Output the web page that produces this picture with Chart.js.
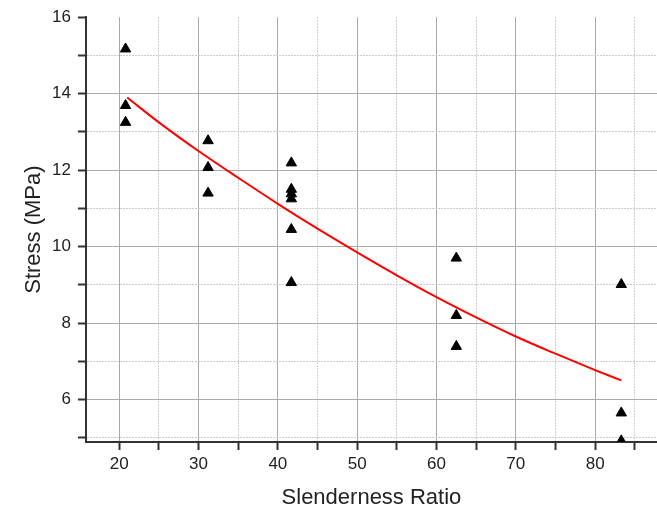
<!DOCTYPE html>
<html>
<head>
<meta charset="utf-8">
<script src="https://cdn.jsdelivr.net/npm/chart.js@4.4.1/dist/chart.umd.min.js"></script>
<style>
  html, body { margin: 0; padding: 0; background: #fff; overflow: hidden; }
</style>
</head>
<body>
<canvas id="stressChart" width="657" height="510"></canvas>
<script>
// measured points (slenderness ratio, stress)
const ratioX = [20.8, 20.8, 20.8, 31.2, 31.2, 31.2, 41.7, 41.7, 41.7, 41.7, 41.7, 41.7, 62.5, 62.5, 62.5, 83.3, 83.3, 83.3];
const stressY = [15.17, 13.69, 13.25, 12.77, 12.07, 11.4, 12.19, 11.5, 11.38, 11.25, 10.45, 9.06, 9.7, 8.2, 7.39, 9.01, 5.65, 4.92];

// fitted curve
const fitX = [21, 25, 30, 35, 40, 45, 50, 55, 60, 65, 70, 75, 80, 83.3];
const fitY = [13.9, 13.25, 12.5, 11.8, 11.12, 10.47, 9.85, 9.25, 8.68, 8.15, 7.65, 7.2, 6.77, 6.5];

const xTitle = 'Slenderness Ratio';
const yTitle = 'Stress (MPa)';

Chart.defaults.font.family = "'Liberation Sans', Arial, sans-serif";
Chart.defaults.color = '#222';

const pts = ratioX.map((x, i) => ({ x: x, y: stressY[i] }));
const fit = fitX.map((x, i) => ({ x: x, y: fitY[i] }));

const majorGrid = '#aaaaaa';
const minorGrid = '#cccccc';

const ctx = document.getElementById('stressChart').getContext('2d');

const stressChart = new Chart(ctx, {
    type: 'scatter',
    data: {
        datasets: [{
            label: 'Data',
            data: pts,
            pointStyle: 'triangle',
            pointRadius: 6,
            pointHoverRadius: 6,
            backgroundColor: '#000',
            borderColor: '#000',
            borderWidth: 1,
            clip: 0
        }, {
            label: 'Fit',
            data: fit,
            showLine: true,
            borderColor: '#ff0000',
            borderWidth: 2,
            pointRadius: 0,
            cubicInterpolationMode: 'monotone',
            fill: false
        }]
    },
    options: {
        responsive: false,
        animation: false,
        events: [],
        layout: { autoPadding: false, padding: { left: 16, right: 0, top: 10, bottom: 0 } },
        plugins: {
            legend: { display: false },
            tooltip: { enabled: false }
        },
        scales: {
            x: {
                type: 'linear',
                min: 15.8,
                max: 87.8,
                grid: {
                    color: c => (c.tick && c.tick.value % 10 === 0) ? majorGrid : minorGrid,
                    lineWidth: 1,
                    tickColor: '#333',
                    tickWidth: 2,
                    tickLength: 8
                },
                border: {
                    color: '#333',
                    width: 2,
                    dash: c => (c.tick && c.tick.value % 10 !== 0) ? [2, 1] : []
                },
                ticks: {
                    stepSize: 5,
                    autoSkip: false,
                    includeBounds: false,
                    maxRotation: 0,
                    padding: 4,
                    font: { size: 17 },
                    callback: v => v % 10 === 0 ? v : ''
                },
                title: {
                    display: true,
                    text: xTitle,
                    font: { size: 22, lineHeight: 1 },
                    padding: { top: 8.1, bottom: 1.5 }
                }
            },
            y: {
                type: 'linear',
                min: 4.89,
                max: 16,
                grid: {
                    color: c => {
                        if (!c.tick) return majorGrid;
                        if (c.tick.value === 16) return 'rgba(0,0,0,0)';
                        return c.tick.value % 2 === 0 ? majorGrid : minorGrid;
                    },
                    lineWidth: 1,
                    tickColor: '#333',
                    tickWidth: 2,
                    tickLength: 8
                },
                border: {
                    color: '#333',
                    width: 2,
                    dash: c => (c.tick && c.tick.value % 2 !== 0) ? [2, 1] : []
                },
                ticks: {
                    stepSize: 1,
                    autoSkip: false,
                    includeBounds: false,
                    padding: 7,
                    font: { size: 17 },
                    callback: v => v % 2 === 0 ? v : ''
                },
                title: {
                    display: true,
                    text: yTitle,
                    font: { size: 22, lineHeight: 1 },
                    padding: { top: 7, bottom: 0 }
                }
            }
        }
    }
});
</script>
</body>
</html>
